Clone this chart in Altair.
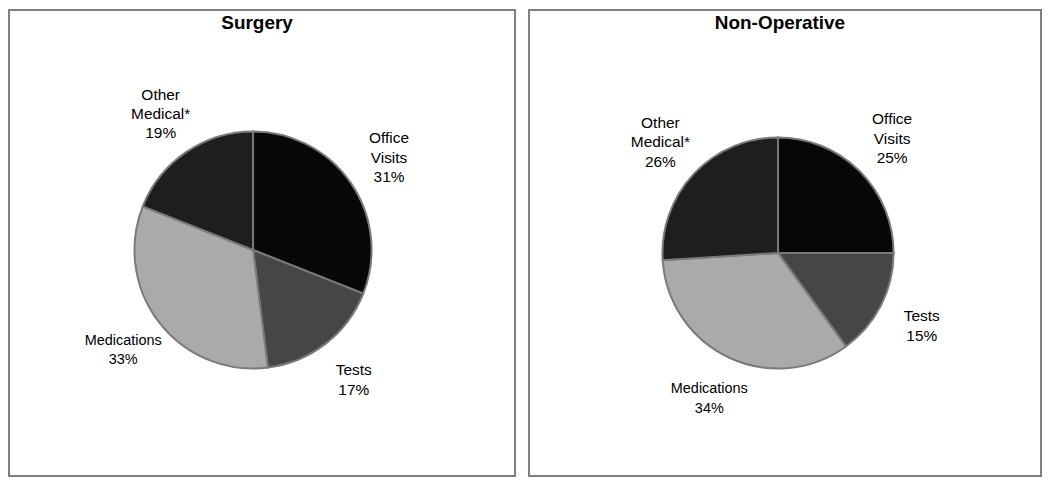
import altair as alt
import pandas as pd

categories = ["Office Visits", "Tests", "Medications", "Other Medical*"]
label_lines = ["Office\nVisits", "Tests", "Medications", "Other\nMedical*"]
surgery_pct = [31, 17, 33, 19]
nonop_pct = [25, 15, 34, 26]
colors = ["#070707", "#464646", "#aaaaaa", "#1e1e1e"]

FONT = "Liberation Sans"
LH = 19.5


def make_df(values):
    labels = [f"{l}\n{v}%" for l, v in zip(label_lines, values)]
    return pd.DataFrame({
        "category": categories,
        "order": list(range(len(categories))),
        "value": values,
        "label": labels,
        "nlines": [len(s.split("\n")) for s in labels],
    })


def panel(values, title, w, h, cx, cy, r, title_x):
    df = make_df(values)
    base = alt.Chart(df).encode(
        theta=alt.Theta("value:Q", stack=True),
        order=alt.Order("order:Q"),
    )
    arcs = base.mark_arc(radius=r, stroke="#7a7a7a", strokeWidth=2).encode(
        x=alt.value(cx), y=alt.value(cy),
        color=alt.Color("category:N", scale=alt.Scale(domain=categories, range=colors), legend=None),
    )
    label_layers = []
    for n in (2, 3):
        lbl = base.mark_text(radius=r + 46, font=FONT, lineBreak="\n", lineHeight=LH,
                             align="center", baseline="middle", color="#000000",
                             dy=-(n - 1) * LH / 2).encode(
            x=alt.value(cx), y=alt.value(cy),
            text="label:N",
            size=alt.condition(alt.datum.category == "Medications", alt.value(14.5), alt.value(15.5)),
            opacity=alt.condition(alt.datum.nlines == n, alt.value(1), alt.value(0)),
        )
        label_layers.append(lbl)
    ttl = alt.Chart(pd.DataFrame({"t": [title]})).mark_text(
        font=FONT, fontSize=19, fontWeight="bold", align="center", baseline="middle", color="#000000"
    ).encode(text="t:N", x=alt.value(title_x), y=alt.value(13))
    return alt.layer(arcs, *label_layers, ttl).properties(width=w, height=h)


left = panel(surgery_pct, "Surgery", 508, 468, 245, 241, 119, 249)
right = panel(nonop_pct, "Non-Operative", 514, 468, 250, 244, 116, 252)

chart = alt.hconcat(left, right, spacing=12).properties(padding=0, background="white").configure_view(
    stroke="#7f7f7f", strokeWidth=2
)

chart.save("out.html", embed_options={"renderer": "svg", "actions": False})
